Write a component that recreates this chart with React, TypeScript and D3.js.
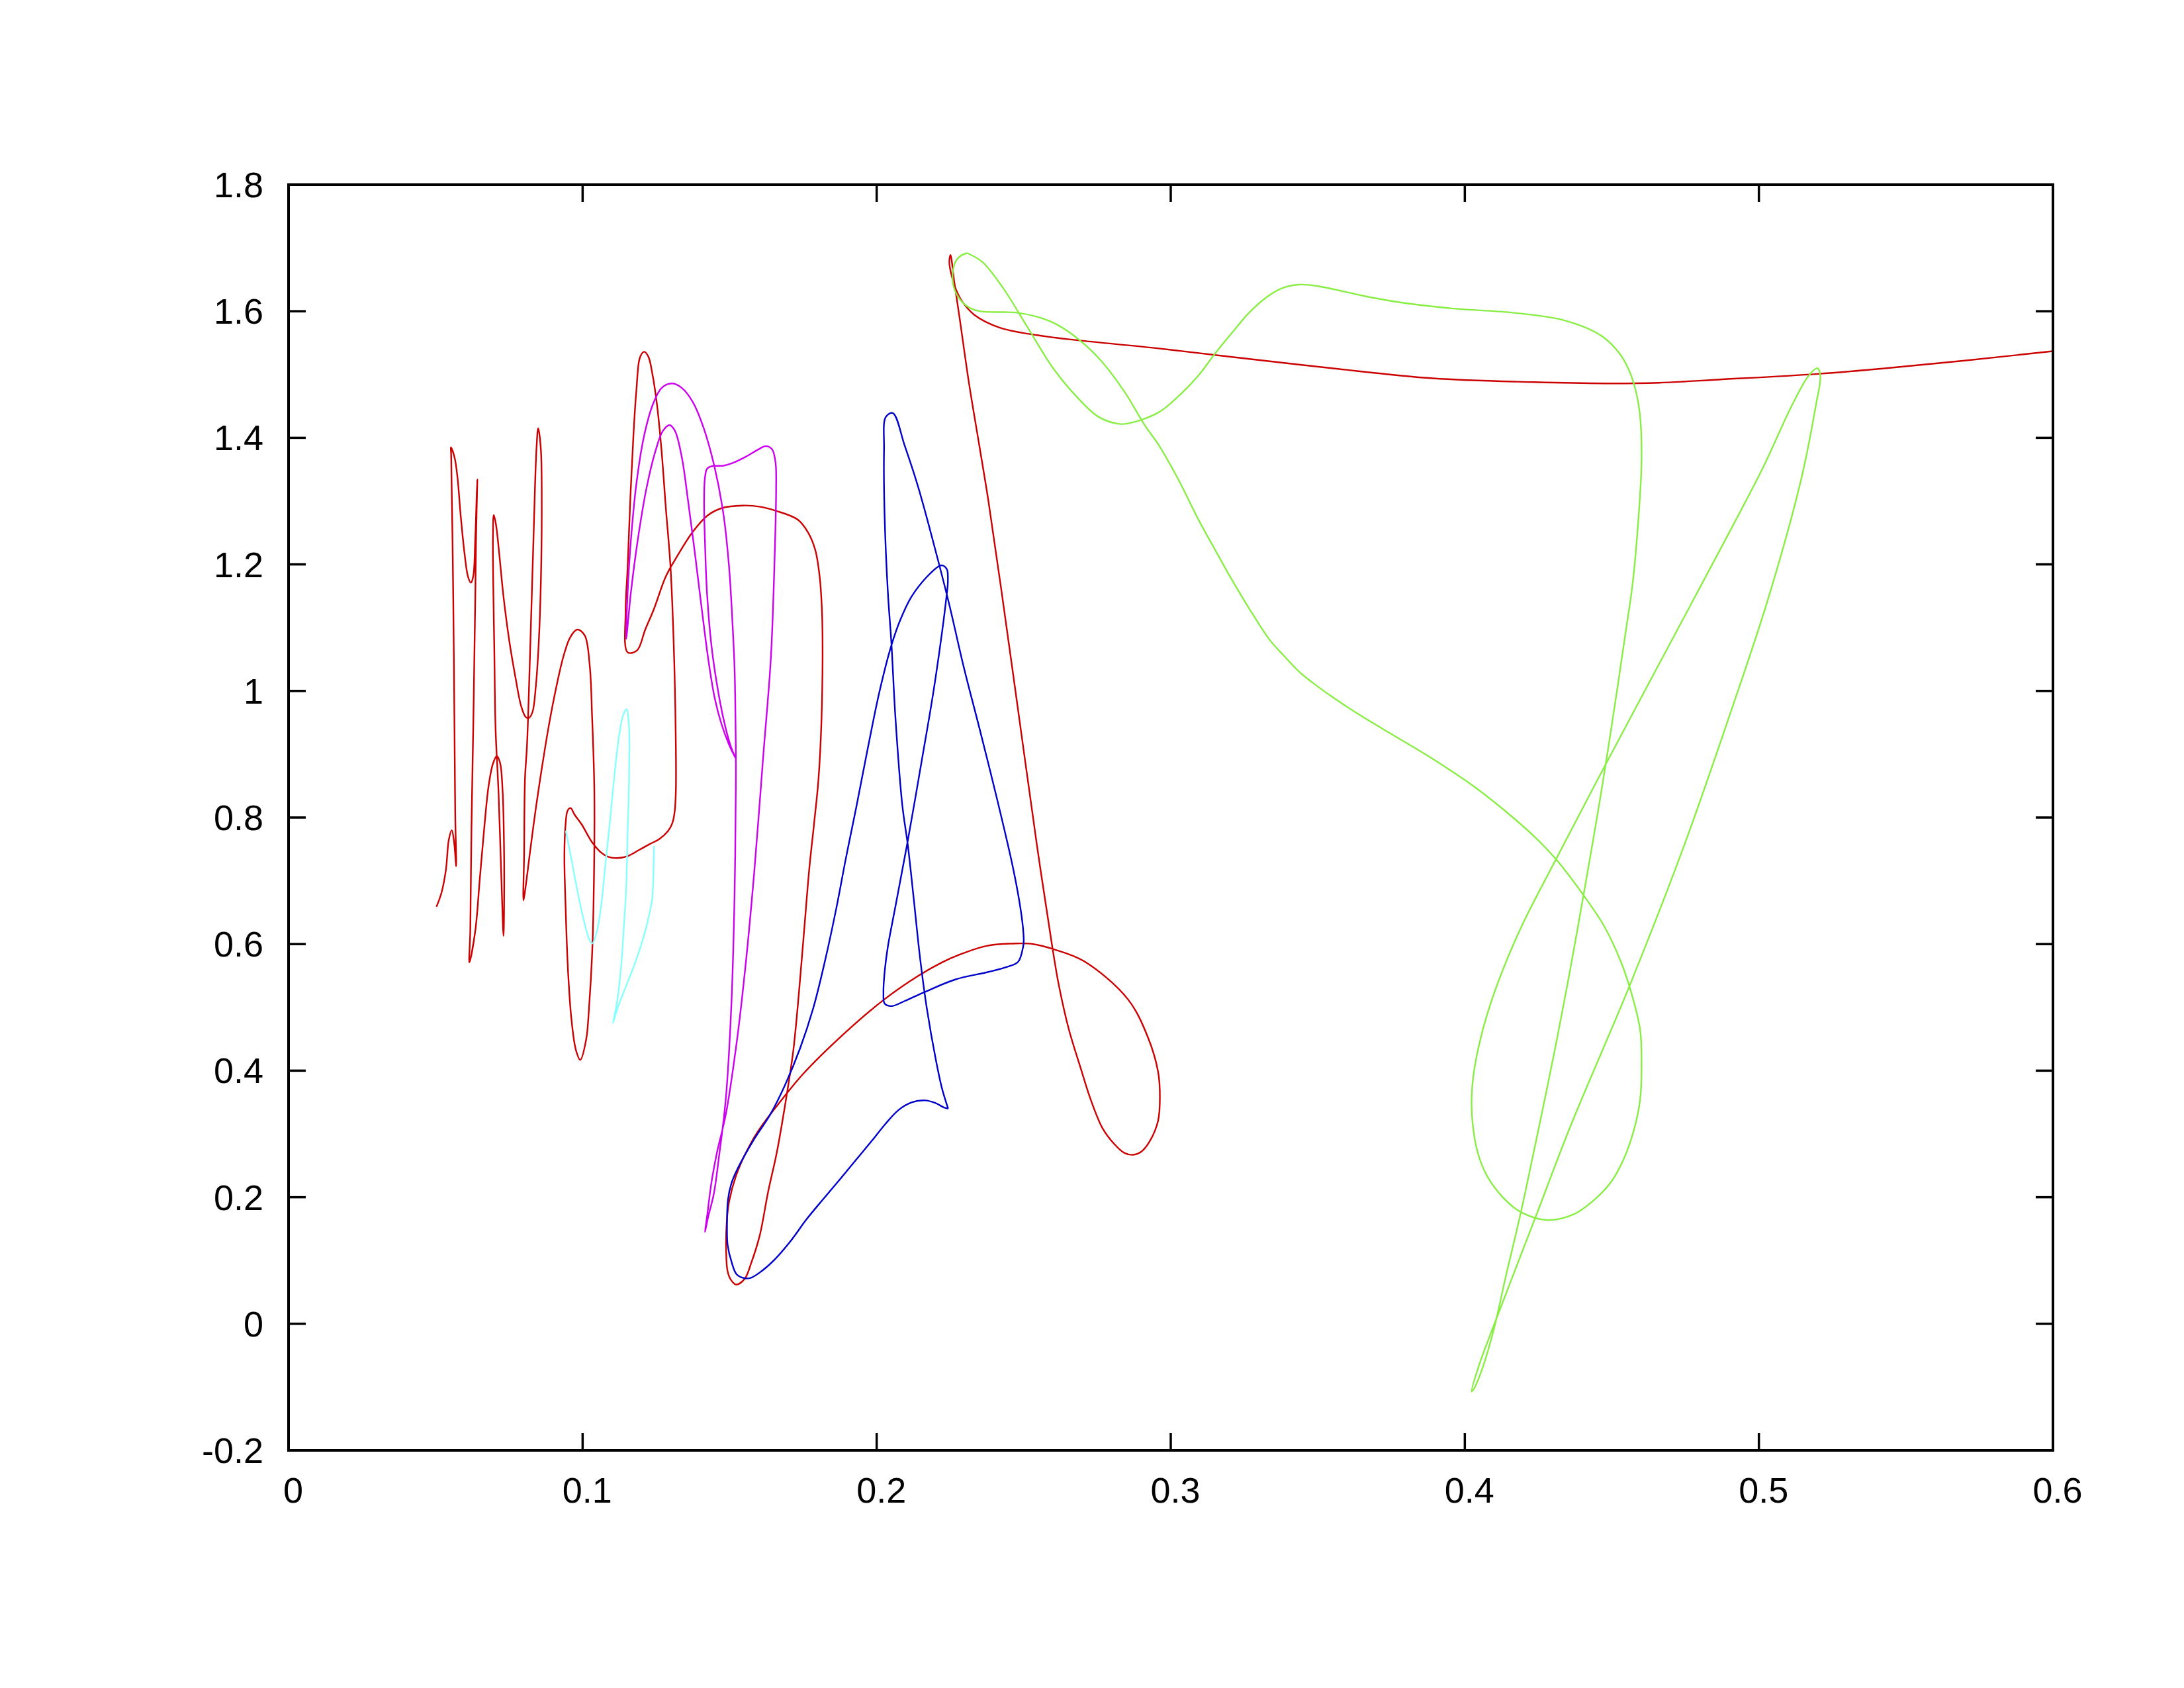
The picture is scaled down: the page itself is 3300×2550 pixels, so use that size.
import React from "react";
import * as d3 from "d3";

const xTicks = [0, 0.1, 0.2, 0.3, 0.4, 0.5, 0.6];
const yTicks = [-0.2, 0, 0.2, 0.4, 0.6, 0.8, 1, 1.2, 1.4, 1.6, 1.8];

const redTrace: [number, number][] = [
  [0.0503,0.659],[0.0520,0.681],[0.0535,0.717],[0.0545,0.765],[0.0555,0.780],[0.0563,0.761],[0.0570,0.723],
  [0.0567,0.800],[0.0565,0.900],[0.0560,1.149],[0.0553,1.373],[0.0552,1.385],[0.0565,1.368],[0.0575,1.335],
  [0.0585,1.279],[0.0598,1.219],[0.0610,1.181],[0.0620,1.171],[0.0628,1.181],[0.0635,1.242],[0.0640,1.312],[0.0642,1.334],
  [0.0638,1.250],[0.0635,1.149],[0.0628,0.941],[0.0622,0.781],[0.0618,0.621],[0.0615,0.571],
  [0.0635,0.621],[0.0650,0.701],[0.0665,0.781],[0.0680,0.849],[0.0695,0.885],[0.0708,0.897],[0.0719,0.887],
  [0.0728,0.841],[0.0733,0.741],[0.0733,0.661],[0.0731,0.613],
  [0.0724,0.700],[0.0714,0.840],[0.0704,0.940],[0.0700,1.055],[0.0695,1.242],[0.0698,1.278],
  [0.0706,1.261],[0.0716,1.219],[0.0731,1.149],[0.0751,1.078],[0.0771,1.023],[0.0791,0.976],[0.0806,0.959],
  [0.0816,0.957],[0.0829,0.966],[0.0841,1.008],[0.0851,1.078],[0.0858,1.172],[0.0861,1.289],[0.0858,1.382],[0.0849,1.415],
  [0.0843,1.382],[0.0833,1.242],[0.0821,1.055],[0.0811,0.915],[0.0804,0.861],[0.0801,0.741],[0.0799,0.669],
  [0.0806,0.690],[0.0821,0.745],[0.0841,0.815],[0.0862,0.880],[0.0885,0.945],[0.0910,1.005],[0.0935,1.055],
  [0.0958,1.085],[0.0982,1.097],[0.1007,1.088],[0.1024,1.041],[0.1032,0.962],[0.1040,0.837],[0.1037,0.661],
  [0.1032,0.581],[0.1022,0.501],[0.1012,0.449],[0.0992,0.417],[0.0977,0.433],[0.0962,0.481],[0.0950,0.561],
  [0.0942,0.661],[0.0938,0.741],[0.0942,0.789],[0.0949,0.811],[0.0959,0.815],[0.0972,0.805],[0.0997,0.789],
  [0.1032,0.761],[0.1062,0.745],[0.1087,0.738],[0.1118,0.736],[0.1153,0.739],[0.1193,0.749],[0.1228,0.758],
  [0.1261,0.766],[0.1291,0.779],[0.1305,0.791],[0.1313,0.809],[0.1317,0.841],[0.1317,0.915],[0.1311,1.055],
  [0.1299,1.195],[0.1283,1.289],[0.1268,1.382],[0.1253,1.452],[0.1238,1.499],[0.1223,1.529],[0.1209,1.536],
  [0.1195,1.527],[0.1183,1.476],[0.1173,1.406],[0.1163,1.312],[0.1153,1.195],[0.1146,1.125],[0.1153,1.061],
  [0.1185,1.064],[0.1213,1.097],[0.1243,1.130],[0.1283,1.181],[0.1323,1.214],[0.1374,1.251],[0.1424,1.277],
  [0.1474,1.289],[0.1545,1.293],[0.1605,1.291],[0.1655,1.285],[0.1731,1.271],[0.1766,1.251],[0.1791,1.223],
  [0.1806,1.181],[0.1814,1.125],[0.1816,1.055],[0.1812,0.950],[0.1802,0.860],[0.1787,0.790],[0.1771,0.720],
  [0.1753,0.620],[0.1735,0.520],[0.1716,0.430],[0.1690,0.350],[0.1660,0.270],[0.1631,0.209],[0.1602,0.139],
  [0.1574,0.097],[0.1551,0.071],[0.1522,0.062],[0.1505,0.069],[0.1493,0.083],[0.1488,0.116],[0.1490,0.160],
  [0.1499,0.195],[0.1528,0.242],[0.1579,0.291],[0.1614,0.316],[0.1677,0.354],[0.1752,0.396],[0.1895,0.461],
  [0.2027,0.513],[0.2142,0.550],[0.2222,0.571],[0.2280,0.583],[0.2372,0.597],[0.2475,0.601],[0.2532,0.600],
  [0.2601,0.592],[0.2705,0.573],[0.2854,0.513],[0.2923,0.452],[0.2957,0.398],[0.2963,0.359],[0.2957,0.321],
  [0.2928,0.288],[0.2900,0.272],[0.2871,0.267],[0.2842,0.270],[0.2808,0.284],[0.2768,0.309],[0.2728,0.354],
  [0.2693,0.405],[0.2653,0.466],[0.2619,0.536],[0.2597,0.596],[0.2545,0.756],[0.2485,0.956],[0.2425,1.156],
  [0.2380,1.300],[0.2350,1.385],[0.2314,1.486],[0.2283,1.586],[0.2264,1.646],[0.2251,1.689],[0.2247,1.678],
  [0.2256,1.654],[0.2270,1.634],[0.2290,1.616],[0.2333,1.594],[0.2419,1.574],[0.2548,1.562],[0.2686,1.554],
  [0.2944,1.542],[0.3203,1.528],[0.3547,1.510],[0.3891,1.494],[0.4236,1.488],[0.4477,1.486],[0.4660,1.487],
  [0.4862,1.492],[0.5199,1.501],[0.5433,1.510],[0.5700,1.522],[0.6000,1.537],
];

const magentaTrace: [number, number][] = [
  [0.1520,0.894],[0.1502,0.915],[0.1479,0.956],[0.1457,1.010],[0.1438,1.072],[0.1423,1.155],[0.1416,1.237],
  [0.1413,1.299],[0.1416,1.337],[0.1423,1.351],[0.1438,1.355],[0.1479,1.356],[0.1509,1.360],[0.1554,1.370],
  [0.1599,1.382],[0.1622,1.387],[0.1644,1.382],[0.1656,1.361],[0.1658,1.320],[0.1652,1.196],[0.1640,1.051],
  [0.1614,0.896],[0.1584,0.716],[0.1554,0.566],[0.1524,0.445],[0.1487,0.331],[0.1457,0.271],[0.1438,0.223],
  [0.1423,0.169],[0.1416,0.145],[0.1427,0.169],[0.1446,0.205],[0.1464,0.265],[0.1487,0.356],[0.1506,0.506],
  [0.1517,0.686],[0.1521,0.850],[0.1521,0.900],[0.1520,0.948],[0.1517,1.031],[0.1509,1.113],[0.1498,1.196],
  [0.1479,1.279],[0.1449,1.353],[0.1412,1.415],[0.1374,1.457],[0.1337,1.479],[0.1303,1.486],[0.1269,1.479],
  [0.1239,1.453],[0.1209,1.403],[0.1183,1.328],[0.1164,1.237],[0.1153,1.155],[0.1148,1.082],[0.1164,1.155],
  [0.1187,1.237],[0.1217,1.320],[0.1247,1.378],[0.1273,1.411],[0.1296,1.420],[0.1314,1.411],[0.1337,1.370],
  [0.1359,1.299],[0.1382,1.217],[0.1404,1.134],[0.1427,1.051],[0.1449,0.989],[0.1472,0.948],[0.1498,0.915],
  [0.1520,0.894],
];

const cyanTrace: [number, number][] = [
  [0.0943,0.779],[0.0962,0.734],[0.0984,0.680],[0.1007,0.632],[0.1022,0.608],[0.1033,0.601],[0.1048,0.619],
  [0.1063,0.661],[0.1078,0.728],[0.1093,0.794],[0.1108,0.866],[0.1123,0.926],[0.1138,0.962],[0.1149,0.971],
  [0.1157,0.950],[0.1158,0.866],[0.1153,0.776],[0.1148,0.686],[0.1140,0.626],[0.1131,0.565],[0.1116,0.505],
  [0.1103,0.475],[0.1119,0.499],[0.1149,0.535],[0.1179,0.571],[0.1209,0.614],[0.1228,0.650],[0.1237,0.673],
  [0.1241,0.716],[0.1243,0.755],
];

const blueTrace: [number, number][] = [
  [0.2243,0.340],[0.2228,0.342],[0.2199,0.349],[0.2165,0.353],[0.2120,0.350],[0.2075,0.338],[0.2030,0.316],
  [0.1985,0.290],[0.1935,0.262],[0.1878,0.230],[0.1820,0.198],[0.1763,0.166],[0.1706,0.130],[0.1654,0.102],
  [0.1608,0.083],[0.1574,0.073],[0.1551,0.072],[0.1524,0.078],[0.1507,0.097],[0.1493,0.125],[0.1491,0.150],
  [0.1494,0.195],[0.1506,0.222],[0.1528,0.246],[0.1585,0.293],[0.1637,0.330],[0.1688,0.377],[0.1740,0.436],
  [0.1785,0.500],[0.1825,0.575],[0.1862,0.655],[0.1895,0.735],[0.1930,0.815],[0.1970,0.910],[0.2010,1.000],
  [0.2050,1.072],[0.2080,1.112],[0.2117,1.148],[0.2170,1.180],[0.2215,1.198],[0.2226,1.198],[0.2239,1.192],
  [0.2242,1.172],[0.2237,1.148],[0.2222,1.092],[0.2192,0.996],[0.2154,0.892],[0.2106,0.764],[0.2064,0.660],
  [0.2038,0.596],[0.2027,0.556],[0.2023,0.524],[0.2027,0.506],[0.2050,0.502],[0.2095,0.510],[0.2162,0.524],
  [0.2267,0.544],[0.2380,0.556],[0.2443,0.564],[0.2481,0.572],[0.2498,0.596],[0.2500,0.604],[0.2497,0.628],
  [0.2485,0.668],[0.2462,0.724],[0.2410,0.828],[0.2350,0.940],[0.2297,1.036],[0.2245,1.140],[0.2192,1.236],
  [0.2140,1.324],[0.2095,1.388],[0.2055,1.439],[0.2031,1.433],[0.2025,1.381],[0.2027,1.276],[0.2038,1.156],
  [0.2050,1.076],[0.2064,0.956],[0.2087,0.820],[0.2106,0.756],[0.2125,0.676],[0.2147,0.580],[0.2170,0.500],
  [0.2200,0.420],[0.2222,0.372],[0.2243,0.340],
];

const greenTrace: [number, number][] = [
  [0.2307,1.692],[0.2359,1.678],[0.2428,1.638],[0.2514,1.574],[0.2600,1.510],[0.2686,1.462],[0.2755,1.433],
  [0.2824,1.422],[0.2858,1.423],[0.2958,1.440],[0.3038,1.471],[0.3095,1.499],[0.3152,1.534],[0.3210,1.567],
  [0.3267,1.598],[0.3325,1.622],[0.3376,1.636],[0.3434,1.642],[0.3497,1.640],[0.3669,1.623],[0.3795,1.613],
  [0.3968,1.604],[0.4157,1.598],[0.4335,1.586],[0.4462,1.562],[0.4525,1.534],[0.4559,1.506],[0.4581,1.475],
  [0.4596,1.434],[0.4601,1.364],[0.4591,1.276],[0.4571,1.171],[0.4546,1.090],[0.4501,0.950],[0.4461,0.832],
  [0.4405,0.681],[0.4360,0.564],[0.4310,0.442],[0.4240,0.284],[0.4189,0.173],[0.4139,0.074],[0.4099,-0.008],
  [0.4063,-0.066],[0.4033,-0.101],[0.4023,-0.107],[0.4048,-0.066],[0.4099,-0.002],[0.4240,0.168],[0.4360,0.313],
  [0.4561,0.535],[0.4742,0.751],[0.4892,0.950],[0.5033,1.148],[0.5144,1.335],[0.5194,1.452],[0.5209,1.498],
  [0.5199,1.510],[0.5169,1.498],[0.5113,1.452],[0.5013,1.352],[0.4862,1.218],[0.4661,1.043],[0.4480,0.885],
  [0.4310,0.734],[0.4199,0.634],[0.4129,0.559],[0.4078,0.492],[0.4048,0.440],[0.4030,0.395],[0.4023,0.355],
  [0.4026,0.319],[0.4043,0.272],[0.4074,0.235],[0.4129,0.200],[0.4189,0.177],[0.4279,0.164],[0.4370,0.173],
  [0.4450,0.200],[0.4500,0.226],[0.4541,0.261],[0.4576,0.308],[0.4596,0.354],[0.4601,0.413],[0.4596,0.465],
  [0.4565,0.525],[0.4530,0.573],[0.4473,0.629],[0.4404,0.677],[0.4312,0.733],[0.4243,0.767],[0.4151,0.805],
  [0.4037,0.847],[0.3956,0.873],[0.3876,0.897],[0.3761,0.929],[0.3646,0.961],[0.3554,0.989],[0.3497,1.008],
  [0.3440,1.029],[0.3382,1.057],[0.3336,1.081],[0.3267,1.130],[0.3210,1.174],[0.3152,1.222],[0.3095,1.270],
  [0.3026,1.334],[0.2957,1.390],[0.2910,1.421],[0.2841,1.474],[0.2755,1.526],[0.2669,1.562],[0.2600,1.582],
  [0.2540,1.592],[0.2471,1.598],[0.2350,1.600],[0.2307,1.608],[0.2273,1.626],[0.2259,1.646],[0.2264,1.674],
  [0.2281,1.686],[0.2307,1.692],
];

const seriesColors = {
  red: "#cc0000",
  magenta: "#cc00ee",
  blue: "#0000cc",
  cyan: "#88ffff",
  green: "#88ee44",
};

const W = 3300;
const H = 2550;
const left = 436;
const right = 3102;
const top = 279;
const bottom = 2191;

const fmt = (t: number) => String(+t.toFixed(1));

export default function App() {
  const x = d3.scaleLinear().domain([0, 0.6]).range([left, right]);
  const y = d3.scaleLinear().domain([-0.2, 1.8]).range([bottom, top]);
  const line = d3
    .line<[number, number]>()
    .x((d) => x(d[0]))
    .y((d) => y(d[1]))
    .curve(d3.curveCatmullRom.alpha(0.5));

  const series: { data: [number, number][]; color: string }[] = [
    { data: redTrace, color: seriesColors.red },
    { data: magentaTrace, color: seriesColors.magenta },
    { data: cyanTrace, color: seriesColors.cyan },
    { data: blueTrace, color: seriesColors.blue },
    { data: greenTrace, color: seriesColors.green },
  ];

  const tickLen = 26;
  const font = "'Liberation Sans', Arial, Helvetica, sans-serif";

  return (
    <svg
      width={W}
      height={H}
      style={{ position: "absolute", left: 0, top: 0, background: "#fff" }}
    >
      <rect x={0} y={0} width={W} height={H} fill="#fff" />
      <defs>
        <clipPath id="plotClip">
          <rect x={left} y={top} width={right - left} height={bottom - top} />
        </clipPath>
      </defs>
      <g clipPath="url(#plotClip)">
        {series.map((s, i) => (
          <path
            key={i}
            d={line(s.data) || ""}
            fill="none"
            stroke={s.color}
            strokeWidth={2.4}
            strokeLinejoin="round"
          />
        ))}
      </g>
      <g stroke="#000" strokeWidth={3.5}>
        {xTicks.map((t) => (
          <g key={"xt" + t}>
            <line x1={x(t)} x2={x(t)} y1={bottom} y2={bottom - tickLen} />
            <line x1={x(t)} x2={x(t)} y1={top} y2={top + tickLen} />
          </g>
        ))}
        {yTicks.map((t) => (
          <g key={"yt" + t}>
            <line x1={left} x2={left + tickLen} y1={y(t)} y2={y(t)} />
            <line x1={right} x2={right - tickLen} y1={y(t)} y2={y(t)} />
          </g>
        ))}
      </g>
      <rect
        x={left}
        y={top}
        width={right - left}
        height={bottom - top}
        fill="none"
        stroke="#000"
        strokeWidth={4}
      />
      <g fontFamily={font} fontSize={54} fill="#000">
        {xTicks.map((t) => (
          <text key={"xl" + t} x={x(t) + 7} y={bottom + 79} textAnchor="middle">
            {fmt(t)}
          </text>
        ))}
        {yTicks.map((t) => (
          <text key={"yl" + t} x={left - 38} y={y(t) + 19} textAnchor="end">
            {fmt(t)}
          </text>
        ))}
      </g>
    </svg>
  );
}
